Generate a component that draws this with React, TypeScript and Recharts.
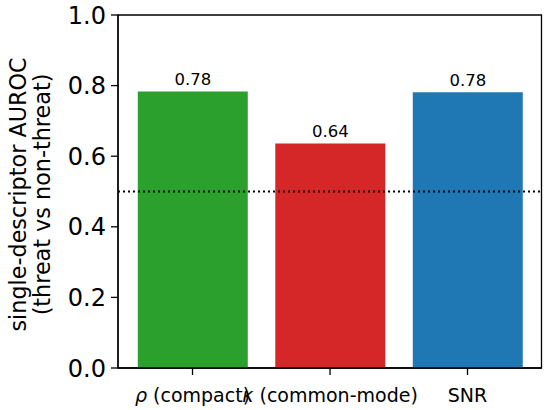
import React from "react";
import { BarChart, Bar, XAxis, YAxis, Cell, ReferenceLine, ReferenceArea, LabelList } from "recharts";

const categories = ["rho", "kappa", "SNR"];
const aurocValues = [0.783, 0.636, 0.781];
const barColors = ["#2ca02c", "#d62728", "#1f77b4"];
const yTicks = [0, 0.2, 0.4, 0.6, 0.8, 1.0];
const xTicks = [0, 1, 2];
const chanceLevel = 0.5;

const data = categories.map((c, i) => ({ name: c, pos: i, value: aurocValues[i] }));

const FONT = "DejaVu Sans";

const XTick = (props: any) => {
  const { x, y, payload } = props;
  const name = categories[Math.round(payload.value)];
  let content: React.ReactNode;
  if (name === "rho") {
    content = (
      <>
        <tspan fontStyle="italic">ρ</tspan>
        <tspan> (compact)</tspan>
      </>
    );
  } else if (name === "kappa") {
    content = (
      <>
        <tspan fontStyle="italic">κ</tspan>
        <tspan> (common-mode)</tspan>
      </>
    );
  } else {
    content = name;
  }
  return (
    <text x={x} y={y + 24.5} textAnchor="middle" fontFamily={FONT} fontSize={19} fill="#000">
      {content}
    </text>
  );
};

const YLabel = () => {
  const cy = 194.5;
  return (
    <g>
      <text
        transform={`translate(26, ${cy}) rotate(-90)`}
        textAnchor="middle"
        fontFamily={FONT}
        fontSize={22.3}
        fill="#000"
      >
        single-descriptor AUROC
      </text>
      <text
        transform={`translate(50, ${cy}) rotate(-90)`}
        textAnchor="middle"
        fontFamily={FONT}
        fontSize={22.3}
        fill="#000"
      >
        (threat vs non-threat)
      </text>
    </g>
  );
};

export default function App() {
  return (
    <div style={{ position: "absolute", left: 0, top: 0, width: 550, height: 410, background: "#fff" }}>
      <BarChart
        width={550}
        height={410}
        data={data}
        margin={{ top: 15, right: 8.5, bottom: 0, left: 0 }}
      >
        <XAxis
          dataKey="pos"
          type="number"
          domain={[-0.542, 2.538]}
          ticks={xTicks}
          allowDataOverflow
          height={42}
          tickSize={7}
          tickLine={{ stroke: "#000", strokeWidth: 1.3 }}
          axisLine={{ stroke: "#000", strokeWidth: 1.3 }}
          tick={<XTick />}
          interval={0}
        />
        <YAxis
          type="number"
          domain={[0, 1]}
          ticks={yTicks}
          width={118}
          tickSize={7}
          tickMargin={5}
          tickFormatter={(v: number) => v.toFixed(1)}
          tick={{ fill: "#000", fontSize: 24, fontFamily: FONT }}
          tickLine={{ stroke: "#000", strokeWidth: 1.3 }}
          axisLine={{ stroke: "#000", strokeWidth: 1.3 }}
          label={<YLabel />}
        />
        <ReferenceArea y1={0} y2={1} fill="none" fillOpacity={0} stroke="#000" strokeWidth={1.3} ifOverflow="visible" />
        <ReferenceLine y={chanceLevel} stroke="#000" strokeWidth={2} strokeDasharray="2 3" />
        <Bar dataKey="value" barSize={110} isAnimationActive={false}>
          {data.map((d, i) => (
            <Cell key={d.name} fill={barColors[i]} />
          ))}
          <LabelList
            dataKey="value"
            position="top"
            offset={6.5}
            formatter={(v: any) => Number(v).toFixed(2)}
            style={{ fill: "#000", fontSize: 16.5, fontFamily: FONT }}
          />
        </Bar>
      </BarChart>
    </div>
  );
}
